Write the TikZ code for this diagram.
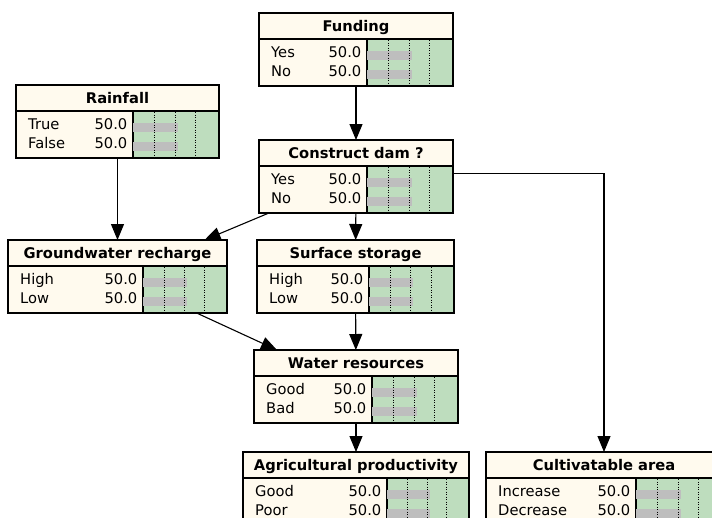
\documentclass[tikz,border=0pt]{standalone}
\usepackage{fontspec}
\setmainfont{DejaVu Sans}
\usepackage{tikz}
\usetikzlibrary{arrows.meta}

\definecolor{cream}{RGB}{255,250,238}
\definecolor{barback}{RGB}{190,221,190}
\definecolor{bargray}{RGB}{190,190,190}

% #1 name, #2 left, #3 right, #4 top, #5 left of bar area, #6 title, #7 #8 states
\newcommand{\bnbox}[8]{%
  \pgfmathsetmacro{\bnwidth}{#3-#2}
  \node[box frame, minimum width=\bnwidth pt] (#1) at (#2,#4) {};
  \draw[bar area] (#5,#4+26) rectangle (#3,#4+73);
  \draw[line width=1.1pt] (#2,#4+26) -- (#3,#4+26);
  \fill[bargray] (#5,#4+37.5) rectangle ({#5+0.52*(#3-#5)},#4+46.5);
  \fill[bargray] (#5,#4+57) rectangle ({#5+0.52*(#3-#5)},#4+66);
  \foreach \q in {0.25,0.49,0.73}
    \draw[tick line] ({#5+\q*(#3-#5)},#4+27) -- ({#5+\q*(#3-#5)},#4+72);
  \node[title text] (#1-title) at ({(#2+#3)/2},#4+18) {#6};
  \node[state text,anchor=base west] (#1-s1) at (#2+12,#4+44) {#7};
  \node[state text,anchor=base east] (#1-v1) at (#5-5.5,#4+44) {50.0};
  \node[state text,anchor=base west] (#1-s2) at (#2+12,#4+63.5) {#8};
  \node[state text,anchor=base east] (#1-v2) at (#5-5.5,#4+63.5) {50.0};
}

\begin{document}
\begin{tikzpicture}[x=1pt,y=-1pt,>={Triangle[length=16pt,width=13pt]},
  box frame/.style={draw,fill=cream,line width=1.1pt,anchor=north west,
    inner sep=0pt,outer sep=0pt,minimum height=73pt},
  bar area/.style={draw,fill=barback,line width=1.1pt},
  tick line/.style={line width=0.8pt,dash pattern=on 1pt off 1.5pt},
  title text/.style={anchor=base,inner sep=0pt,font=\fontsize{14.7}{16}\selectfont\bfseries},
  state text/.style={inner sep=0pt,font=\fontsize{14.7}{16}\selectfont},
  conn/.style={->,line width=1.1pt}]
  \useasboundingbox (0,0) rectangle (712,517);
  \clip (0,0) rectangle (712,517);

  \bnbox{funding}{259}{453}{13}{367}{Funding}{Yes}{No}
  \bnbox{rainfall}{16}{219}{85}{133}{Rainfall}{True}{False}
  \bnbox{dam}{259}{453}{140}{367}{Construct dam ?}{Yes}{No}
  \bnbox{groundwater}{8}{227}{240}{143}{Groundwater recharge}{High}{Low}
  \bnbox{surface}{257}{454}{240}{369}{Surface storage}{High}{Low}
  \bnbox{water}{254}{458}{350}{372}{Water resources}{Good}{Bad}
  \bnbox{agri}{243}{469}{452}{387}{Agricultural productivity}{Good}{Poor}
  \bnbox{cultiv}{486}{722}{452}{636}{Cultivatable area}{Increase}{Decrease}

  \path[conn]
    (funding) edge (dam)
    (rainfall) edge (groundwater)
    (dam) edge (groundwater)
    (dam) edge (surface)
    (surface) edge (water)
    (groundwater) edge (water)
    (water) edge (agri);
  \draw[conn] ([yshift=3pt]dam.east) -| (cultiv.north);
\end{tikzpicture}
\end{document}
